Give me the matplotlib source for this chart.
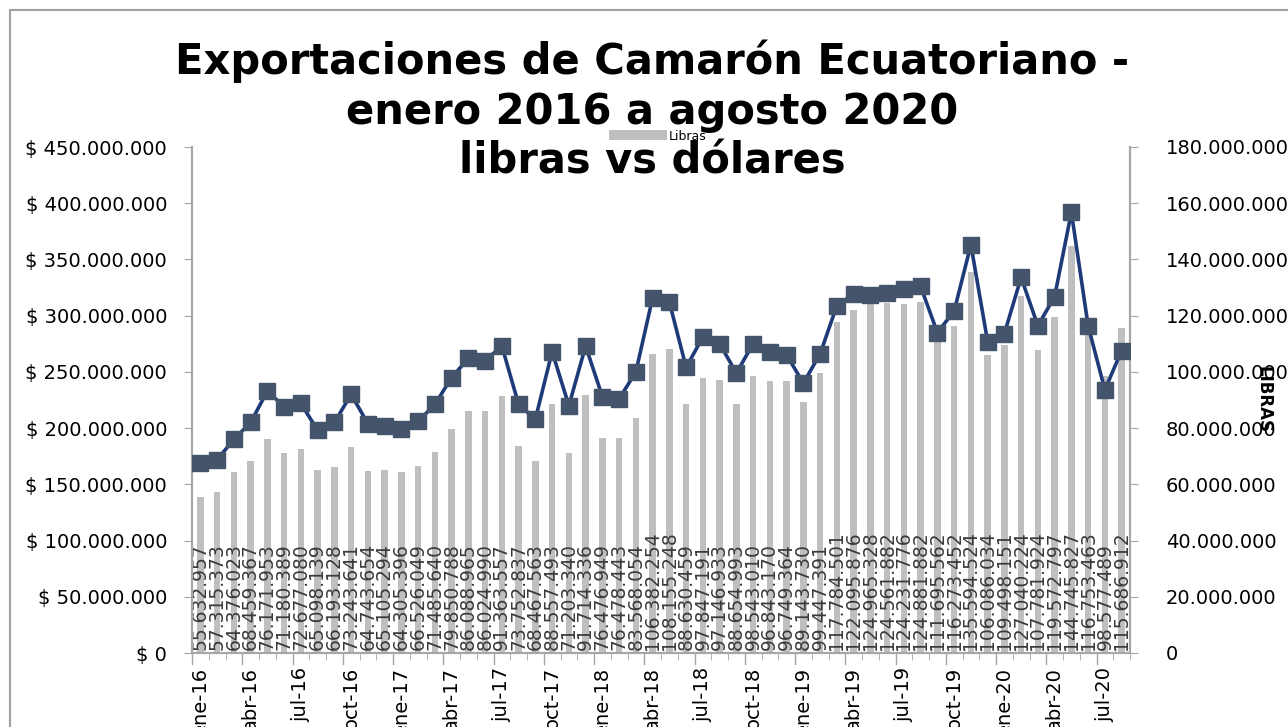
import matplotlib
matplotlib.use("Agg")
import matplotlib.pyplot as plt
from matplotlib.ticker import FuncFormatter, MultipleLocator
from matplotlib.patches import Rectangle

# months jan-2016 .. aug-2020
meses = ['ene', 'feb', 'mar', 'abr', 'may', 'jun', 'jul', 'ago', 'sep', 'oct', 'nov', 'dic']
anios = [16, 17, 18, 19, 20]
periodos = [f"{m}-{a}" for a in anios for m in meses][:56]

# pounds exported (right axis, bars)
libras = [55632957, 57315373, 64376023, 68459367, 76171953, 71180389, 72677080, 65098139,
          66193128, 73243641, 64743654, 65105294, 64305396, 66526049, 71485640, 79850788,
          86088965, 86024990, 91363557, 73752837, 68467563, 88557493, 71203340, 91714336,
          76476949, 76478443, 83568054, 106382254, 108155248, 88630459, 97847191, 97146933,
          88654993, 98543010, 96843170, 96749364, 89143730, 99447391, 117784501, 122095876,
          124965328, 124561882, 124231776, 124881882, 111695562, 116273452, 135594524, 106086034,
          109498151, 127040224, 107781924, 119572797, 144745827, 116753463, 98577489, 115686912]

# dollars exported (left axis, line)
dolares = [169e6, 172e6, 190e6, 205e6, 233e6, 219e6, 222e6, 198e6, 205e6, 230e6, 204e6, 202e6,
           199e6, 206e6, 221e6, 245e6, 262e6, 260e6, 273e6, 221e6, 208e6, 268e6, 220e6, 273e6,
           228e6, 226e6, 250e6, 316e6, 312e6, 254e6, 281e6, 275e6, 249e6, 275e6, 268e6, 265e6,
           240e6, 266e6, 309e6, 319e6, 318e6, 320e6, 324e6, 326e6, 285e6, 304e6, 363e6, 277e6,
           284e6, 334e6, 291e6, 317e6, 392e6, 291e6, 234e6, 269e6]


def miles(v):
    return f"{int(round(v)):,}".replace(",", ".")


plt.rcParams['font.family'] = ['DejaVu Sans']

fig = plt.figure(figsize=(12.88, 7.27), dpi=100)
ax = fig.add_axes([192 / 1288, 1 - 653 / 727, (1130 - 192) / 1288, (653 - 147) / 727])
ax2 = ax.twinx()

x = list(range(len(periodos)))

# bars on the secondary (right) axis, drawn behind the line
ax2.bar(x, libras, width=0.4, color='#BFBFBF', label='Libras', zorder=1)
for xi, v in zip(x, libras):
    ax2.text(xi, 1.0e6, miles(v), rotation=90, ha='center', va='bottom',
             fontsize=13.5, color='#3A3A3A', zorder=2)
ax2.set_ylim(0, 180e6)
ax2.yaxis.set_major_locator(MultipleLocator(20e6))
ax2.yaxis.set_major_formatter(FuncFormatter(lambda v, p: miles(v)))
ax2.set_ylabel('LIBRAS', rotation=270, fontsize=12, fontweight='bold')
ax2.yaxis.set_label_coords(1.152, 0.5)

# line on primary axis, put ax above ax2
ax.set_zorder(ax2.get_zorder() + 1)
ax.patch.set_visible(False)
ax.plot(x, dolares, color='#1F3A78', lw=2.6, marker='s', markersize=11,
        markerfacecolor='#44546A', markeredgecolor='#44546A', zorder=3)
ax.set_ylim(0, 450e6)
ax.yaxis.set_major_locator(MultipleLocator(50e6))
ax.yaxis.set_major_formatter(FuncFormatter(lambda v, p: '$ 0' if v == 0 else '$ ' + miles(v)))

ax.set_xlim(-0.5, len(periodos) - 0.5)
ax.set_xticks(x[::3])
ax.set_xticklabels(periodos[::3], rotation=90)
ax.set_xticks([i - 0.5 for i in range(len(periodos) + 1)], minor=True)
ax.tick_params(axis='x', which='major', length=0, pad=10, labelsize=14)
ax.tick_params(axis='x', which='minor', length=5, color='#A6A6A6')
ax.tick_params(axis='y', labelsize=14, colors='#A6A6A6', labelcolor='black', length=6, pad=12)
ax2.tick_params(axis='y', labelsize=14, colors='#A6A6A6', labelcolor='black', length=6, pad=20)
# major tick marks at every third boundary
for b in range(0, len(periodos) + 1, 3):
    ax.plot([b - 0.5, b - 0.5], [0, -0.022], transform=ax.get_xaxis_transform(),
            color='#A6A6A6', lw=1, clip_on=False)

for a in (ax, ax2):
    a.spines['top'].set_visible(False)
    for s in ('left', 'right', 'bottom'):
        a.spines[s].set_color('#A6A6A6')
        a.spines[s].set_linewidth(1.5)

leg = ax2.legend(loc='center', bbox_to_anchor=(658 / 1288, 1 - 136 / 727),
                 bbox_transform=fig.transFigure, frameon=False, fontsize=9,
                 handlelength=4.6, handleheight=0.8, borderpad=0, handletextpad=0.2)

fig.text(652 / 1288, 1 - 111 / 727,
         'Exportaciones de Camarón Ecuatoriano -\nenero 2016 a agosto 2020\nlibras vs dólares',
         ha='center', va='center', fontsize=30, fontweight='bold', linespacing=1.22,
         zorder=10)

# chart frame (cropped in the source image)
fig.patches.append(Rectangle((10 / 1288, -0.1), 1.2, 1 - 10 / 727 + 0.1, transform=fig.transFigure,
                             fill=False, edgecolor='#A0A0A0', lw=1.5))

fig.savefig('out.png', dpi=100)
